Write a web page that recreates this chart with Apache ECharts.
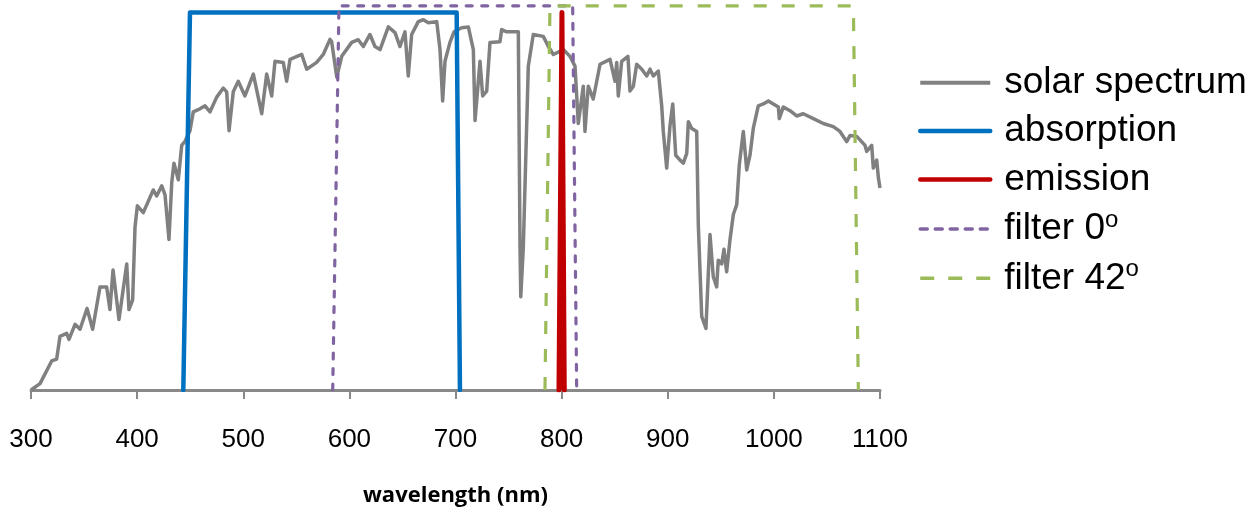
<!DOCTYPE html>
<html>
<head>
<meta charset="utf-8">
<script src="https://cdn.jsdelivr.net/npm/echarts@6/dist/echarts.min.js"></script>
<style>
html,body{margin:0;padding:0;background:#fff;}
#chart{width:1255px;height:512px;}
</style>
</head>
<body>
<div id="chart"></div>
<script>
// ---- data ----
var seriesNames = ['solar spectrum', 'absorption', 'emission', 'filter 0o', 'filter 42o'];
var xTicks = [300, 400, 500, 600, 700, 800, 900, 1000, 1100];

var solarWl = [300,308.5,319.5,324.2,327.3,333.6,335.8,341.5,346.2,352.8,358.1,365.0,371.3,374.4,377.3,382.9,390.2,392.3,395.8,398.0,400.2,405.8,415.2,418.4,423.2,426.3,430.0,432.6,434.7,438.8,442.0,445.1,449.8,452.9,459.2,464.0,468.7,475.0,481.2,484.4,486.6,490.6,495.3,501.6,509.5,517.4,522.1,526.8,529.9,537.7,540.9,544.1,555.1,559.8,569.2,575.4,581.7,583.3,588.1,592.8,602.2,608.4,613.1,619.4,624.1,628.9,636.7,643.0,647.7,652.4,655.5,658.7,664.9,669.7,674.4,682.3,685.4,687.9,690.1,694.8,698.6,705.8,712.1,716.8,718.4,723.1,725.6,729.4,732.5,741.9,743.5,748.2,759.2,760.8,761.5,763.9,768.6,773.3,782.7,787.5,792.2,801.6,807.9,812.6,815.7,820.4,822.0,825.1,829.8,836.2,845.6,850.3,851.9,853.4,856.6,862.5,864.4,867.6,870.7,875.5,880.2,883.3,886.4,891.1,894.3,895.8,899.0,902.1,904.7,907.5,911.6,914.7,917.9,919.4,922.6,927.3,928.8,932.0,936.0,939.8,942.9,946.1,947.6,950.8,953.0,955.5,958.6,961.8,965.0,967.4,971.2,974.4,977.5,980.6,985.3,990.0,994.8,1004.2,1005.1,1008.9,1015.2,1021.5,1027.7,1037.2,1046.6,1056.0,1062.3,1068.6,1071.7,1078.1,1085.9,1087.5,1092.2,1093.7,1096.9,1098.5,1100];
var solarVal = [0.00,0.017,0.077,0.082,0.142,0.150,0.134,0.174,0.161,0.216,0.161,0.273,0.273,0.213,0.318,0.187,0.334,0.213,0.239,0.431,0.488,0.470,0.530,0.514,0.541,0.517,0.399,0.549,0.601,0.557,0.648,0.659,0.687,0.737,0.745,0.753,0.737,0.776,0.800,0.790,0.687,0.790,0.818,0.779,0.837,0.732,0.837,0.779,0.871,0.868,0.818,0.876,0.889,0.850,0.868,0.889,0.929,0.923,0.829,0.884,0.921,0.928,0.910,0.942,0.910,0.902,0.962,0.947,0.910,0.949,0.832,0.942,0.976,0.981,0.973,0.976,0.902,0.766,0.871,0.921,0.949,0.960,0.962,0.902,0.714,0.871,0.779,0.792,0.921,0.923,0.955,0.949,0.949,0.378,0.247,0.378,0.858,0.942,0.937,0.910,0.889,0.902,0.884,0.858,0.706,0.805,0.685,0.805,0.771,0.863,0.876,0.818,0.868,0.779,0.871,0.884,0.792,0.805,0.863,0.850,0.832,0.850,0.832,0.845,0.753,0.685,0.588,0.700,0.758,0.622,0.609,0.601,0.627,0.711,0.693,0.685,0.438,0.195,0.163,0.412,0.300,0.273,0.344,0.334,0.373,0.313,0.397,0.465,0.491,0.596,0.685,0.583,0.622,0.693,0.753,0.758,0.766,0.750,0.719,0.750,0.740,0.726,0.732,0.719,0.706,0.698,0.685,0.658,0.674,0.672,0.648,0.632,0.648,0.588,0.609,0.562,0.535];

var absorptionWl = [443.5, 449.8, 701.1, 704.2];
var absorptionVal = [0, 1, 1, 0];

var emissionWl = [797.5, 800.3, 801.0, 802.5];
var emissionVal = [0, 1, 1, 0];

var filter0Wl = [584.3, 590.2, 810.4, 814.2];
var filter0Val = [0, 1.018, 1.018, 0];

var filter42Wl = [784.3, 789.0, 1074.9, 1079.6];
var filter42Val = [0, 1.018, 1.018, 0];

function pairs(xs, ys) { return xs.map(function (x, i) { return [x, ys[i]]; }); }

var colors = ['#808080', '#0070C0', '#C00000', '#8064A2', '#9BBB59'];
var lineStyles = [
  {color: colors[0], width: 3.5, join: 'round'},
  {color: colors[1], width: 4.5, join: 'round', cap: 'round'},
  {color: colors[2], width: 5, join: 'round', cap: 'round'},
  {color: colors[3], width: 3.2, type: [6, 9.5], cap: 'round'},
  {color: colors[4], width: 3.2, type: [13, 15]}
];
var legendLine = [
  {color: colors[0], width: 4},
  {color: colors[1], width: 4.5},
  {color: colors[2], width: 4.5},
  {color: colors[3], width: 3.5, type: [7, 8]},
  {color: colors[4], width: 3.5, type: [14, 14]}
];

var chart = echarts.init(document.getElementById('chart'), null, {renderer: 'canvas'});
var axisGrey = '#898989';
var option = {
  animation: false,
  backgroundColor: '#ffffff',
  grid: {left: 31, right: 375, top: 1.25, bottom: 117.2, containLabel: false},
  legend: {
    orient: 'vertical',
    left: 918,
    top: 62.7,
    padding: 0,
    itemWidth: 70,
    itemHeight: 14,
    itemGap: 8.4,
    data: seriesNames.map(function (n, i) {
      return {name: n, lineStyle: legendLine[i], itemStyle: {opacity: 0, color: colors[i]}};
    }),
    formatter: function (name) { return name.replace(/o$/, '{sup|o}'); },
    textStyle: {
      fontFamily: '"Liberation Sans", Arial, sans-serif',
      fontSize: 37,
      lineHeight: 40,
      color: '#000',
      padding: [0, 0, 0, 9],
      rich: {
        sup: {fontFamily: '"Liberation Sans", Arial, sans-serif', fontSize: 24, color: '#000', padding: [0, 0, 18, 0]}
      }
    }
  },
  xAxis: {
    type: 'value',
    min: xTicks[0],
    max: xTicks[xTicks.length - 1],
    interval: 100,
    name: 'wavelength (nm)',
    nameLocation: 'middle',
    nameGap: 95,
    nameTextStyle: {fontFamily: '"Open Sans", sans-serif', fontWeight: 'bold', fontSize: 22, color: '#000'},
    axisLine: {show: true, lineStyle: {color: axisGrey, width: 3}},
    axisTick: {show: true, length: 9, lineStyle: {color: axisGrey, width: 2}},
    axisLabel: {margin: 37, fontFamily: '"Liberation Sans", Arial, sans-serif', fontSize: 26, color: '#000',
      formatter: function (v) { return String(v); }},
    splitLine: {show: false}
  },
  yAxis: {
    type: 'value', min: 0, max: 1.03,
    show: false,
    splitLine: {show: false}
  },
  series: seriesNames.map(function (n, i) {
    var d = [pairs(solarWl, solarVal), pairs(absorptionWl, absorptionVal), pairs(emissionWl, emissionVal),
             pairs(filter0Wl, filter0Val), pairs(filter42Wl, filter42Val)][i];
    var s = {name: n, type: 'line', symbol: 'none', showSymbol: false, data: d,
      lineStyle: lineStyles[i], itemStyle: {color: colors[i]}};
    if (i === 2) s.areaStyle = {color: colors[2], opacity: 1};
    return s;
  })
};
chart.setOption(option);
</script>
</body>
</html>
